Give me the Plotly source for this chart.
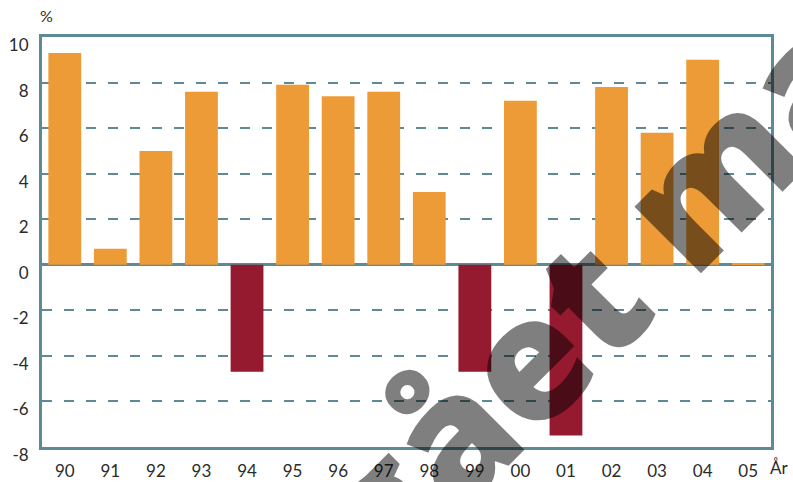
import plotly.graph_objects as go

years = ["90", "91", "92", "93", "94", "95", "96", "97", "98", "99", "00", "01", "02", "03", "04", "05"]
values = [9.3, 0.7, 5.0, 7.6, -4.7, 7.9, 7.4, 7.6, 3.2, -4.7, 7.2, -7.5, 7.8, 5.8, 9.0, 0.05]
y_ticks = [-8, -6, -4, -2, 0, 2, 4, 6, 8, 10]
y_labels = ["-8", "-6", "-4", "-2", "0", "2", "4", "6", "8", "10"]

POS = "#EC9B36"
NEG = "#951A30"
AXC = "#5E8A96"
FONT = "Lato"

colors = [POS if v >= 0 else NEG for v in values]

fig = go.Figure(go.Bar(x=years, y=values, marker=dict(color=colors, line=dict(width=0)), width=0.72))

fig.update_layout(
    width=793, height=482,
    margin=dict(l=42, r=22, t=37, b=35),
    paper_bgcolor="white", plot_bgcolor="white",
    showlegend=False,
    font=dict(family=FONT, size=17, color="#2b2b2b"),
    xaxis=dict(type="category", range=[-0.5, 15.5], showgrid=False, ticks="", automargin=False,
               showline=True, mirror=True, linecolor=AXC, linewidth=3,
               ticklabelstandoff=7, tickfont=dict(size=17)),
    yaxis=dict(range=[-8, 10], tickvals=y_ticks, ticktext=y_labels, automargin=False,
               showgrid=True, gridcolor=AXC, gridwidth=1.5, griddash="10px,12px",
               zeroline=True, zerolinecolor=AXC, zerolinewidth=2.5,
               showline=True, mirror=True, linecolor=AXC, linewidth=3,
               ticks="", ticklabelstandoff=7, ticklabelshift=8, tickfont=dict(size=17)),
    annotations=[
        dict(text="%", xref="paper", yref="paper", x=0.0, y=1.0, xanchor="center", yanchor="bottom",
             xshift=4, yshift=10, showarrow=False, font=dict(size=16, family=FONT, color="#2b2b2b")),
        dict(text="År", xref="paper", yref="paper", x=1.0, y=0.0, xanchor="left", yanchor="top",
             xshift=-3, yshift=-8, showarrow=False, font=dict(size=17, family=FONT, color="#2b2b2b")),
        dict(text="Utgået materiale", xref="paper", yref="paper", x=0.934, y=0.706,
             xanchor="center", yanchor="middle", textangle=-45, showarrow=False,
             font=dict(size=170, family="Open Sans", weight=800, color="rgba(0,0,0,0.5)")),
    ],
)

fig.write_html("out.html", config={"displayModeBar": False},
               post_script="document.body.style.margin='0';document.body.style.overflow='hidden';")
